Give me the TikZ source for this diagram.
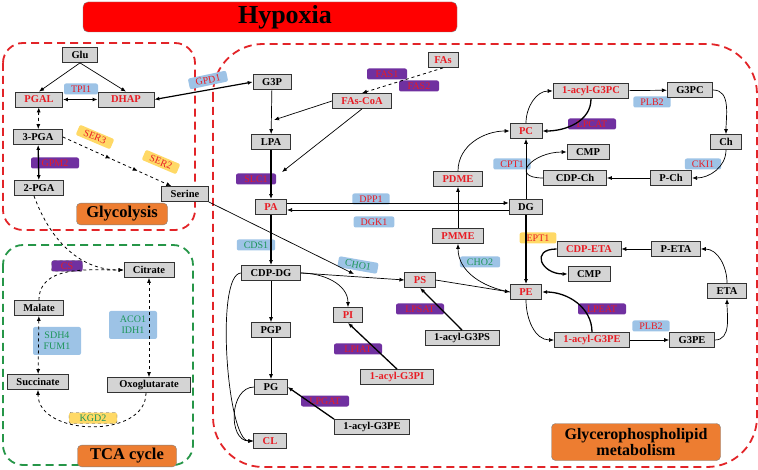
\documentclass[tikz,border=0pt]{standalone}
\usepackage{fontspec}
\setmainfont{Liberation Serif}
\usetikzlibrary{arrows.meta,decorations.markings}

\definecolor{hypred}{RGB}{255,0,0}
\definecolor{boxred}{RGB}{226,36,40}
\definecolor{boxgreen}{RGB}{38,150,72}
\definecolor{metgray}{RGB}{212,212,212}
\definecolor{metred}{RGB}{232,28,36}
\definecolor{enzblue}{RGB}{157,195,230}
\definecolor{enzyellow}{RGB}{255,217,102}
\definecolor{enzpurple}{RGB}{112,48,160}
\definecolor{enzgreen}{RGB}{30,150,90}
\definecolor{taborange}{RGB}{237,125,49}

\begin{document}
\begin{tikzpicture}[
    x=1pt, y=1pt,
    >={Latex[length=5pt,width=4pt]},
    met/.style={draw=black!80, fill=metgray, line width=0.8pt, font=\fontsize{10.5}{12}\selectfont\bfseries, inner xsep=9pt, inner ysep=2pt, minimum height=15pt},
    redmet/.style={met, text=metred},
    enz/.style={rounded corners=2pt, font=\fontsize{10}{11}\selectfont, inner xsep=7pt, inner ysep=1pt, minimum height=11pt, align=center},
    blueenz/.style={enz, fill=enzblue, text=metred},
    greenenz/.style={enz, fill=enzblue, text=enzgreen},
    yelenz/.style={enz, fill=enzyellow, text=metred},
    purpenz/.style={enz, fill=enzpurple, text=metred, minimum width=48pt},
    tag/.style={draw=gray, fill=taborange, rounded corners=4pt, font=\fontsize{16.5}{17}\selectfont\bfseries, align=center},
    region/.style={dash pattern=on 8pt off 5pt, line width=1.8pt, rounded corners=20pt},
    arr/.style={->, line width=0.7pt},
    tarr/.style={->, line width=1.3pt},
    darr/.style={<->, line width=1pt},
    dasharr/.style={->, dashed, line width=0.8pt},
    midarrows/.style={postaction={decorate, decoration={markings,
        mark=at position 0.44 with {\arrow{>}},
        mark=at position 0.69 with {\arrow{>}}}}}
]
\useasboundingbox (0,0) rectangle (758,-470);

% Banner and pathway regions
\node[draw=gray, fill=hypred, rounded corners=5pt, minimum width=374pt, minimum height=30pt] (hyp) at (270,-17) {};
\node[font=\fontsize{26}{26}\selectfont\bfseries] (hyptext) at (285,-17) {Hypoxia};
\draw[region, draw=boxred] (3,-43) rectangle (195,-230);
\draw[region, draw=boxgreen] (3,-245) rectangle (193,-465);
\draw[region, draw=boxred, rounded corners=50pt] (213,-44) rectangle (757,-467);

% Enzyme labels
\node[blueenz] (tpi) at (81,-89) {TPI1};
\node[purpenz] (gpm) at (55,-163) {GPM2};
\node[yelenz, rotate=-23] (serthree) at (95,-137) {SER3};
\node[yelenz, rotate=-23] (sertwo) at (161,-162) {SER2};
\node[blueenz, rotate=12] (gpd) at (208,-80) {GPD1};
\node[purpenz, minimum width=31pt, draw=black!70, dashed] (cs) at (67,-266) {CS};
\node[greenenz, minimum width=48pt, minimum height=28pt] (sdh) at (57,-341) {SDH4\\FUM1};
\node[greenenz, minimum width=48pt, minimum height=28pt] (aco) at (133,-325) {ACO1\\IDH1};
\node[enz, fill=enzyellow, text=enzgreen, draw=black!70, dashed, minimum width=48pt] (kgd) at (93,-418) {KGD2};
\node[purpenz, minimum width=40pt] (fasone) at (387,-74) {FAS1};
\node[purpenz, minimum width=40pt] (fastwo) at (419,-86) {FAS2};
\node[purpenz, minimum width=40pt] (slc) at (256,-179) {SLC1};
\node[blueenz] (dpp) at (371,-199) {DPP1};
\node[blueenz] (dgk) at (374,-222) {DGK1};
\node[greenenz] (cds) at (256,-245) {CDS1};
\node[greenenz, rotate=-10] (choone) at (358,-265) {CHO1};
\node[purpenz] (lpsat) at (420,-309) {LPSAT};
\node[purpenz] (lpiat) at (358,-349) {LPIAT};
\node[purpenz] (lpgat) at (325,-401) {LPGAT};
\node[blueenz] (plbc) at (652,-102) {PLB2};
\node[purpenz] (lpcat) at (592,-124) {LPCAT};
\node[blueenz] (cpt) at (512,-164) {CPT1};
\node[blueenz] (cki) at (703,-164) {CKI1};
\node[yelenz] (ept) at (538,-238) {EPT1};
\node[greenenz] (chotwo) at (480,-262) {CHO2};
\node[purpenz] (lpeat) at (602,-309) {LPEAT};
\node[blueenz] (plbe) at (651,-326) {PLB2};

% Pathway titles
\node[tag, minimum width=91pt, minimum height=17pt] (glyctag) at (122,-214) {Glycolysis};
\node[tag, minimum width=99pt, minimum height=18pt] (tcatag) at (127,-456) {TCA cycle};
\node[tag, minimum width=169pt, minimum height=37pt, font=\fontsize{16}{16.5}\selectfont\bfseries] (gpltag) at (636,-442) {Glycerophospholipid\\metabolism};

% Glycolysis
\node[met] (glu) at (80,-55) {Glu};
\node[redmet] (pgal) at (39,-99.5) {PGAL};
\node[redmet, minimum width=56pt] (dhap) at (126,-99.5) {DHAP};
\node[met] (pgathree) at (38,-137) {3-PGA};
\node[met] (pgatwo) at (39,-188) {2-PGA};
\node[met] (serine) at (185,-194) {Serine};

% TCA cycle
\node[met] (citrate) at (149,-270) {Citrate};
\node[met] (malate) at (39,-308) {Malate};
\node[met] (succ) at (38,-382) {Succinate};
\node[met, minimum width=83pt] (oxo) at (149,-385) {Oxoglutarate};

% Glycerophospholipid metabolism, left part
\node[met] (gthreep) at (272,-82) {G3P};
\node[redmet, minimum width=30pt, inner xsep=4pt] (fas) at (443,-60) {FAs};
\node[redmet] (facoa) at (362,-101) {FAs-CoA};
\node[met] (lpa) at (271,-142) {LPA};
\node[redmet] (pa) at (271,-207) {PA};
\node[met] (cdpdg) at (271,-273) {CDP-DG};
\node[redmet] (ps) at (420,-280) {PS};
\node[redmet] (pi) at (348,-315) {PI};
\node[met] (pgp) at (271,-330) {PGP};
\node[met] (pg) at (271,-387) {PG};
\node[redmet] (cl) at (270,-441) {CL};
\node[met] (acylps) at (462,-338) {1-acyl-G3PS};
\node[redmet] (acylpi) at (397,-377) {1-acyl-G3PI};
\node[met] (acylpeb) at (372,-427) {1-acyl-G3PE};

% Glycerophospholipid metabolism, right part
\node[redmet] (acylpc) at (591,-91) {1-acyl-G3PC};
\node[met] (gpc) at (690,-90) {G3PC};
\node[redmet] (pc) at (526,-131) {PC};
\node[met] (ch) at (726,-142) {Ch};
\node[met] (cmpc) at (588,-152) {CMP};
\node[redmet] (pdme) at (458,-179) {PDME};
\node[met, minimum width=63pt] (cdpch) at (575,-178) {CDP-Ch};
\node[met] (pch) at (671,-178) {P-Ch};
\node[met] (dg) at (526,-207) {DG};
\node[redmet] (pmme) at (458,-236) {PMME};
\node[redmet] (cdpeta) at (589,-249) {CDP-ETA};
\node[met] (peta) at (676,-249) {P-ETA};
\node[met] (cmpe) at (589,-274) {CMP};
\node[redmet] (pe) at (526,-292) {PE};
\node[met] (eta) at (727,-291) {ETA};
\node[redmet] (acylpe) at (592,-340) {1-acyl-G3PE};
\node[met] (gpe) at (692,-340) {G3PE};

% Glycolysis reactions
\draw[arr] (glu.south) -- (pgal.north);
\draw[arr] (glu.south) -- (dhap.north);
\draw[darr] (pgal) -- (dhap);
\draw[darr, dashed, line width=0.8pt] (pgal) -- (pgathree);
\draw[darr, line width=1.3pt] (pgathree) -- (pgatwo);
\draw[dasharr, midarrows] (pgathree.east) -- ([xshift=10pt]serine.north west);
\draw[darr, line width=1.2pt] (dhap.east) -- (gthreep.west);

% TCA cycle reactions
\draw[dasharr] ([xshift=-5pt]pgatwo.south) to[out=-70, in=180] (citrate.west);
\draw[dasharr] (malate.north) to[out=90, in=180] (citrate.west);
\draw[darr, dashed, line width=0.8pt] (malate) -- (succ);
\draw[darr, dashed, line width=0.8pt] (citrate) -- (oxo);
\draw[dasharr] ([xshift=-3pt]oxo.south) to[out=-90, in=-90, looseness=1.1] (succ.south);

% Glycerophospholipid reactions
\coordinate (faone) at (274,-120);
\coordinate (fatwo) at (282,-172);
\coordinate (chopt) at (354,-274);
\draw[arr] (gthreep) -- (lpa);
\draw[arr] (facoa.west) -- (faone);
\draw[arr] (facoa.south) -- (fatwo);
\draw[dasharr] (fas.south) -- (facoa.north);
\draw[tarr] (lpa) -- (pa);
\draw[tarr] (pa) -- (cdpdg);
\draw[arr] ([yshift=4pt]pa.east) -- ([yshift=4pt]dg.west);
\draw[arr] ([yshift=-3pt]dg.west) -- ([yshift=-3pt]pa.east);
\draw[arr] (serine.south east) -- (chopt);
\draw[arr] (cdpdg) -- (pgp);
\draw[arr] (pgp) -- (pg);
\draw[arr] (cdpdg.east) -- (ps.west);
\draw[arr] (cdpdg.east) to[out=0, in=90] (pi.north);
\draw[arr] (cdpdg.west) to[out=180, in=180, looseness=0.4] (cl.west);
\draw[arr] (pg.west) to[out=180, in=180, looseness=1.2] (cl.west);
\draw[tarr] (acylps.north) -- (ps.south);
\draw[tarr] (acylpi.north) -- (pi.south);
\draw[tarr] (acylpeb.north west) -- (pg.east);
\draw[arr] (ps.east) -- (pe.west);
\draw[arr] (pe.west) to[out=170, in=-90] (pmme.south);
\draw[arr] (pmme) -- (pdme);
\draw[arr] (pdme.north) to[out=90, in=180] (pc.west);
\draw[arr] (dg) -- (pc);
\draw[tarr] (dg) -- (pe);
\draw[arr] (pc.north) to[out=90, in=180] (acylpc.west);
\draw[tarr] (acylpc.south) to[out=-90, in=0] (pc.east);
\draw[arr] (acylpc) -- (gpc);
\draw[arr] (gpc.east) to[out=0, in=90] (ch.north);
\draw[arr] (ch.south) to[out=-90, in=0] (pch.east);
\draw[arr] (pch) -- (cdpch);
\draw[arr] (cdpch.west) to[out=180, in=180, looseness=2.5] (cmpc.west);
\draw[arr] (peta) -- (cdpeta);
\draw[tarr] (cdpeta.west) to[out=180, in=180, looseness=2.5] (cmpe.west);
\draw[arr] (eta.north) to[out=90, in=0] (peta.east);
\draw[arr] (gpe.east) to[out=0, in=-90] (eta.south);
\draw[arr] (acylpe) -- (gpe);
\draw[arr] (pe.south) to[out=-90, in=180] (acylpe.west);
\draw[tarr] (acylpe.north) to[out=90, in=0] (pe.east);

\end{tikzpicture}
\end{document}
